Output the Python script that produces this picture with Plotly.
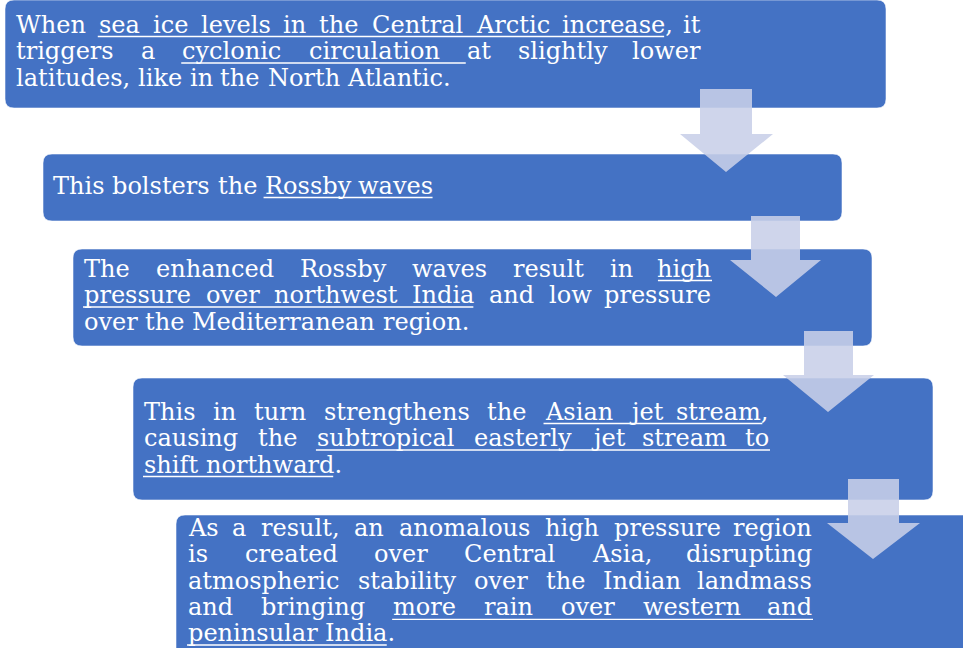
import glob, os, struct
import plotly.graph_objects as go

# ---------------- content (text of the flow diagram) ----------------
# [ ... ] marks underlined runs
box1_lines = ["When [sea ice levels in the Central Arctic increase], it",
              "triggers a [cyclonic circulation ]at slightly lower",
              "latitudes, like in the North Atlantic."]
box2_lines = ["This bolsters the [Rossby waves]"]
box3_lines = ["The enhanced Rossby waves result in [high]",
              "[pressure over northwest India] and low pressure",
              "over the Mediterranean region."]
box4_lines = ["This in turn strengthens the [Asian jet stream],",
              "causing the [subtropical easterly jet stream to]",
              "[shift northward]."]
box5_lines = ["As a result, an anomalous high pressure region",
              "is created over Central Asia, disrupting",
              "atmospheric stability over the Indian landmass",
              "and bringing [more rain over western and]",
              "[peninsular India]."]
paragraphs = [box1_lines, box2_lines, box3_lines, box4_lines, box5_lines]

# ---------------- layout (pixels) ----------------
W, H = 963, 648
BOXES = [(5, 0, 886, 108), (43, 154, 842, 221), (73, 249, 872, 346),
         (133, 378, 933, 500), (176, 515, 1000, 690)]
TEXT_LR = [(15, 702), (52, 448), (83, 712), (143, 770), (187, 813)]
BASELINES = [[33, 59.5, 86], [194], [277, 303.5, 330], [420, 446.5, 473],
             [536, 562.6, 589.2, 615.8, 641.5]]
# arrows: shaft x0, shaft x1, top, head y, head x0, head x1, tip x, tip y
ARROWS = [(700, 752, 89, 134, 680, 773, 726, 172),
          (751, 800, 216, 260, 730, 821, 776, 297),
          (804, 853, 331, 375, 783, 874, 828, 412),
          (848, 899, 479, 523, 827, 920, 873, 559)]
# reference pixel widths of the un-justified lines (for font sizing)
REF_WIDTHS = {"latitudes, like in the North Atlantic.": 453,
              "This bolsters the Rossby waves": 396,
              "over the Mediterranean region.": 391,
              "shift northward.": 206,
              "peninsular India.": 221}

BOX_COLOR = "#4472C4"
ARROW_COLOR = "rgba(200,207,232,0.88)"
FONT = "DejaVu Serif"
FONT_FILE = "DejaVuSerif.ttf"
MAX_LINE_BOX = 28.0   # cap on a text line's box height (line pitch is ~26.6)

# ---------------- font metrics (advance widths, em units) ----------------
FALLBACK = dict(zip("abcdefghijklmnopqrstuvwxyz",
                    [.60, .64, .56, .64, .59, .37, .64, .67, .32, .32, .61, .32, 1.0,
                     .67, .60, .64, .64, .48, .51, .40, .67, .58, .86, .58, .58, .53]))
FALLBACK.update({" ": .32, ",": .32, ".": .32, "A": .72, "C": .73, "I": .37,
                 "M": .95, "N": .81, "R": .77, "T": .68, "W": 1.03})
ASC, DESC = 0.928, 0.236


def load_ttf_widths(fname):
    paths = []
    for d in ["/usr/share/fonts", "/usr/local/share/fonts",
              os.path.expanduser("~/.fonts"), os.path.expanduser("~/.local/share/fonts")]:
        paths += glob.glob(os.path.join(d, "**", fname), recursive=True)
    if not paths:
        return None
    data = open(paths[0], "rb").read()
    ntab = struct.unpack(">H", data[4:6])[0]
    tabs = {}
    for i in range(ntab):
        rec = data[12 + 16 * i: 28 + 16 * i]
        off, ln = struct.unpack(">II", rec[8:16])
        tabs[rec[:4].decode("latin1")] = off
    upem = struct.unpack(">H", data[tabs["head"] + 18: tabs["head"] + 20])[0]
    hh = tabs["hhea"]
    asc, desc = struct.unpack(">hh", data[hh + 4: hh + 8])
    nhm = struct.unpack(">H", data[hh + 34: hh + 36])[0]
    hm = tabs["hmtx"]
    adv = [struct.unpack(">H", data[hm + 4 * i: hm + 4 * i + 2])[0] for i in range(nhm)]
    c = tabs["cmap"]
    nsub = struct.unpack(">H", data[c + 2: c + 4])[0]
    sub = None
    for i in range(nsub):
        pid, eid, off = struct.unpack(">HHI", data[c + 4 + 8 * i: c + 12 + 8 * i])
        fmt = struct.unpack(">H", data[c + off: c + off + 2])[0]
        if fmt == 4 and (pid, eid) in [(3, 1), (0, 3), (0, 1), (0, 0)]:
            sub = c + off
            break
    if sub is None:
        return None
    segx2 = struct.unpack(">H", data[sub + 6: sub + 8])[0]
    seg = segx2 // 2
    endp = sub + 14
    startp = endp + segx2 + 2
    deltap = startp + segx2
    rangep = deltap + segx2
    ends = struct.unpack(">%dH" % seg, data[endp: endp + segx2])
    starts = struct.unpack(">%dH" % seg, data[startp: startp + segx2])
    deltas = struct.unpack(">%dh" % seg, data[deltap: deltap + segx2])
    ranges = struct.unpack(">%dH" % seg, data[rangep: rangep + segx2])

    def gid(ch):
        cp = ord(ch)
        for i in range(seg):
            if ends[i] >= cp:
                if starts[i] > cp:
                    return 0
                if ranges[i] == 0:
                    return (cp + deltas[i]) & 0xFFFF
                a = rangep + 2 * i + ranges[i] + 2 * (cp - starts[i])
                g = struct.unpack(">H", data[a: a + 2])[0]
                return (g + deltas[i]) & 0xFFFF if g else 0
        return 0

    table = {}
    chars = set("".join("".join(p) for p in paragraphs)) | {" "}
    for ch in chars:
        g = gid(ch)
        table[ch] = adv[min(g, nhm - 1)] / upem
    return table, asc / upem, abs(desc) / upem


WID = FALLBACK
try:
    res = load_ttf_widths(FONT_FILE)
    if res:
        WID, ASC, DESC = res
except Exception:
    WID = FALLBACK


def em(s):
    return sum(WID.get(ch, 0.6) for ch in s)


# font size from the reference widths of plain lines
ratios = sorted(v / em(k) for k, v in REF_WIDTHS.items())
fs = ratios[len(ratios) // 2]
fs = min(fs, MAX_LINE_BOX / (ASC + DESC))
for p, (L, R) in zip(paragraphs, TEXT_LR):
    if len(p) < 2:
        continue
    for line in p[:-1]:
        words = line.replace("[", "").replace("]", "").split(" ")
        need = sum(em(w) for w in words) + 0.6 * WID[" "] * (len(words) - 1)
        fs = min(fs, (R - L) / need)


def parse(line):
    """Return words as lists of (char, underlined) and gap underline flags."""
    words, gaps, cur, on = [], [], [], False
    for ch in line:
        if ch == "[":
            on = True
        elif ch == "]":
            on = False
        elif ch == " ":
            words.append(cur)
            gaps.append(on)
            cur = []
        else:
            cur.append((ch, on))
    words.append(cur)
    return words, gaps


fig = go.Figure()

# boxes (rounded rectangles)
r = 9
for (x0, y0, x1, y1) in BOXES:
    path = (f"M{x0 + r},{y0} L{x1 - r},{y0} Q{x1},{y0} {x1},{y0 + r} "
            f"L{x1},{y1 - r} Q{x1},{y1} {x1 - r},{y1} L{x0 + r},{y1} "
            f"Q{x0},{y1} {x0},{y1 - r} L{x0},{y0 + r} Q{x0},{y0} {x0 + r},{y0} Z")
    fig.add_shape(type="path", path=path, xref="x", yref="y",
                  fillcolor=BOX_COLOR, line=dict(color="rgba(255,255,255,0.55)", width=1),
                  layer="below")

# arrows
for (sx0, sx1, top, hy, hx0, hx1, tx, ty) in ARROWS:
    path = (f"M{sx0},{top} L{sx1},{top} L{sx1},{hy} L{hx1},{hy} "
            f"L{tx},{ty} L{hx0},{hy} L{sx0},{hy} Z")
    fig.add_shape(type="path", path=path, xref="x", yref="y",
                  fillcolor=ARROW_COLOR, line=dict(width=0), layer="above")

# text, justified word by word
annotations = []
space = WID[" "] * fs
mid_off = (ASC - DESC) / 2 * fs
for p, (L, R), bases in zip(paragraphs, TEXT_LR, BASELINES):
    for li, (line, base) in enumerate(zip(p, bases)):
        words, gaps = parse(line)
        wstr = ["".join(c for c, _ in w) for w in words]
        wid = [em(s) * fs for s in wstr]
        justify = li < len(p) - 1 and len(words) > 1
        gap = (R - L - sum(wid)) / (len(words) - 1) if justify else space
        x = L
        lefts = []
        for k, (s, wdt) in enumerate(zip(wstr, wid)):
            lefts.append(x)
            last_j = justify and k == len(wstr) - 1
            annotations.append(dict(x=R if last_j else x, y=base - mid_off,
                                    xref="x", yref="y", text=s, showarrow=False,
                                    xanchor="right" if last_j else "left",
                                    yanchor="middle", borderpad=0,
                                    font=dict(family=FONT, size=fs, color="#FFFFFF")))
            x += wdt + gap
        # underline intervals
        segs = []
        for i, w in enumerate(words):
            pos = lefts[i]
            for ch, on in w:
                cw = WID.get(ch, 0.6) * fs
                if on:
                    segs.append([pos, pos + cw])
                pos += cw
            if i < len(gaps) and gaps[i]:
                segs.append([pos, lefts[i + 1]])
        merged = []
        for s in segs:
            if merged and abs(s[0] - merged[-1][1]) < 0.5:
                merged[-1][1] = s[1]
            else:
                merged.append(list(s))
        for a, b in merged:
            fig.add_shape(type="line", x0=a, x1=b, y0=base + 3.5, y1=base + 3.5,
                          xref="x", yref="y", line=dict(color="#FFFFFF", width=1.3),
                          layer="above")

fig.update_layout(width=W, height=H, margin=dict(l=0, r=0, t=0, b=0),
                  plot_bgcolor="white", paper_bgcolor="white",
                  xaxis=dict(range=[0, W], visible=False, fixedrange=True),
                  yaxis=dict(range=[H, 0], visible=False, fixedrange=True),
                  annotations=annotations, showlegend=False)
fig.write_html("out.html", config={"displayModeBar": False},
               post_script="document.body.style.margin='0';document.body.style.overflow='hidden';")
